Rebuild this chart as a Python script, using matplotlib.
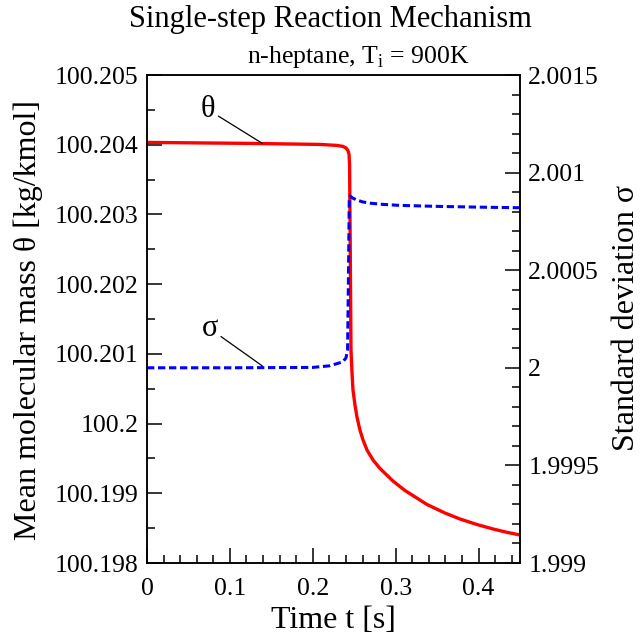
import matplotlib
matplotlib.use("Agg")
import matplotlib.pyplot as plt
from matplotlib.ticker import MultipleLocator

plt.rcParams['font.family'] = ['Liberation Serif', 'DejaVu Serif']
plt.rcParams['mathtext.fontset'] = 'custom'
plt.rcParams['mathtext.rm'] = 'Liberation Serif'

# mean molecular mass theta [kg/kmol] vs time [s]
t_theta = [0.0, 0.124, 0.2087, 0.2292, 0.2364, 0.2400, 0.2424, 0.2437, 0.2444,
           0.2452, 0.2461, 0.2473, 0.2485, 0.2509, 0.2533, 0.2569, 0.2606,
           0.2654, 0.2726, 0.2811, 0.2967, 0.3112, 0.3378, 0.3595, 0.3776,
           0.3981, 0.4174, 0.4343, 0.4500]
theta = [100.204033, 100.204019, 100.204004, 100.20399, 100.203976, 100.203954,
         100.203918, 100.203868, 100.20371, 100.20249, 100.201056, 100.20074,
         100.200482, 100.200267, 100.200095, 100.199908, 100.199765, 100.199621,
         100.199478, 100.199356, 100.199176, 100.19904, 100.198839, 100.198717,
         100.198631, 100.198552, 100.198488, 100.19844, 100.198402]

# standard deviation sigma vs time [s]
t_sigma = [0.0, 0.10, 0.20, 0.22, 0.236, 0.240, 0.2420, 0.2430, 0.2440,
           0.2449, 0.2480, 0.2530, 0.2600, 0.2700, 0.2850, 0.3050, 0.35,
           0.40, 0.45]
sigma = [2.00000, 2.00000, 2.000002, 2.00001, 2.00003, 2.00005, 2.00009,
         2.00045, 2.00086, 2.00088, 2.00087, 2.000860, 2.000850, 2.000843,
         2.000837, 2.000832, 2.000827, 2.000823, 2.000820]

x_ticks = [0, 0.1, 0.2, 0.3, 0.4]
x_labels = ["0", "0.1", "0.2", "0.3", "0.4"]
theta_ticks = [100.198, 100.199, 100.200, 100.201, 100.202, 100.203, 100.204, 100.205]
theta_labels = ["100.198", "100.199", "100.2", "100.201", "100.202", "100.203", "100.204", "100.205"]
sigma_ticks = [1.999, 1.9995, 2.000, 2.0005, 2.001, 2.0015]
sigma_labels = ["1.999", "1.9995", "2", "2.0005", "2.001", "2.0015"]

W, H = 642, 637
fig = plt.figure(figsize=(W / 100, H / 100), dpi=100)
ax = fig.add_axes([147 / W, 1 - 563 / H, (520 - 147) / W, (563 - 75) / H])
ax2 = ax.twinx()

ax.plot(t_theta, theta, color='red', lw=2.4, solid_joinstyle='round')
ax2.plot(t_sigma, sigma, color='blue', lw=2.2, dashes=(2.4, 1.2))

ax.set_xlim(0, 0.45)
ax.set_ylim(100.198, 100.205)
ax2.set_ylim(1.999, 2.0015)

ax.set_xticks(x_ticks, x_labels)
ax.set_yticks(theta_ticks, theta_labels)
ax2.set_yticks(sigma_ticks, sigma_labels)
ax.xaxis.set_minor_locator(MultipleLocator(0.02))
ax.yaxis.set_minor_locator(MultipleLocator(0.0005))
ax2.yaxis.set_minor_locator(MultipleLocator(0.0001))

fs_tick = 18.5
ax.tick_params(axis='x', which='both', direction='in', top=False, labelsize=fs_tick, pad=11, width=1.1)
ax.tick_params(axis='y', which='both', direction='in', right=False, labelsize=fs_tick, pad=6, width=1.1)
ax2.tick_params(axis='y', which='both', direction='in', left=False, labelsize=fs_tick, pad=6, width=1.1)
for a in (ax, ax2):
    a.tick_params(which='major', length=11)
    a.tick_params(which='minor', length=6)
for s in ax.spines.values():
    s.set_linewidth(1.1)
for s in ax2.spines.values():
    s.set_linewidth(1.1)

fs_label = 23
ax.set_xlabel("Time t [s]", fontsize=fs_label)
ax.xaxis.set_label_coords(0.5, -(621 - 563) / (563 - 75))
ax.xaxis.label.set_va('center')
ax.set_ylabel("Mean molecular mass θ [kg/kmol]", fontsize=fs_label)
ax.yaxis.set_label_coords(-(147 - 28) / (520 - 147), (563 - 320) / (563 - 75))
ax.yaxis.label.set_va('center')
fig.text(626 / W, 1 - 318 / H, "Standard deviation σ", fontsize=fs_label,
         rotation=90, ha='center', va='center')

fig.text(330 / W, 1 - 19 / H, "Single-step Reaction Mechanism", fontsize=22,
         ha='center', va='center')
fig.text(358 / W, 1 - 57 / H, r"n-heptane, T$_\mathrm{i}$ = 900K", fontsize=18.5,
         ha='center', va='center')

ax.annotate("θ", xy=(0.139, 100.20402), xytext=(0.074, 100.20450), fontsize=22,
            ha='center', va='center',
            arrowprops=dict(arrowstyle='-', color='black', lw=0.9, shrinkA=0, shrinkB=0))
ax2.annotate("σ", xy=(0.139, 2.00001), xytext=(0.076, 2.00020), fontsize=22,
             ha='center', va='center',
             arrowprops=dict(arrowstyle='-', color='black', lw=0.9, shrinkA=0, shrinkB=0))

fig.savefig("out.png", dpi=100)
